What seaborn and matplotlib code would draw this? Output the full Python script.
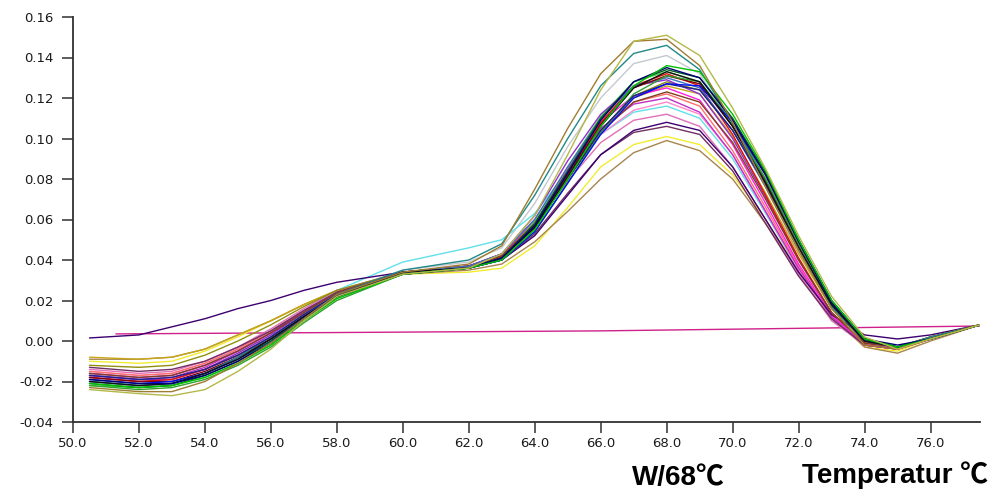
import matplotlib
matplotlib.use("Agg")
import matplotlib.pyplot as plt
import numpy as np
import pandas as pd
import seaborn as sns

# ---------------- data ----------------
temps = [50.5, 52, 53, 54, 55, 56, 57, 58, 60, 62, 63, 64, 65, 66, 67, 68,
         69, 70, 71, 72, 73, 74, 75, 76, 77.5]

flat_temps = [51.3, 66.0, 77.5]
flat_vals = [0.0035, 0.0050, 0.0074]

c_yellowgreen = [-0.024, -0.026, -0.027, -0.024, -0.015, -0.004, 0.010, 0.022, 0.033, 0.036, 0.043, 0.062, 0.092, 0.124, 0.148, 0.151, 0.141, 0.115, 0.085, 0.052, 0.022, 0.002, -0.004, 0.001, 0.008]
c_brownolive = [-0.023, -0.025, -0.025, -0.020, -0.011, -0.001, 0.011, 0.023, 0.034, 0.038, 0.047, 0.075, 0.105, 0.132, 0.148, 0.149, 0.136, 0.108, 0.076, 0.045, 0.016, -0.002, -0.004, 0.001, 0.008]
c_teal = [-0.020, -0.022, -0.021, -0.016, -0.008, 0.002, 0.013, 0.023, 0.035, 0.040, 0.048, 0.072, 0.100, 0.126, 0.142, 0.146, 0.134, 0.108, 0.078, 0.046, 0.017, 0.000, -0.003, 0.002, 0.008]
c_lightgray = [-0.018, -0.020, -0.019, -0.014, -0.006, 0.003, 0.014, 0.024, 0.035, 0.039, 0.046, 0.068, 0.096, 0.120, 0.137, 0.141, 0.132, 0.106, 0.076, 0.044, 0.016, 0.000, -0.003, 0.002, 0.008]
c_green = [-0.021, -0.023, -0.022, -0.018, -0.011, -0.002, 0.010, 0.021, 0.033, 0.036, 0.040, 0.055, 0.080, 0.106, 0.126, 0.136, 0.133, 0.112, 0.084, 0.050, 0.020, 0.001, -0.003, 0.001, 0.008]
c_navy = [-0.019, -0.021, -0.021, -0.017, -0.010, -0.001, 0.011, 0.022, 0.033, 0.036, 0.041, 0.057, 0.083, 0.109, 0.128, 0.135, 0.130, 0.109, 0.082, 0.049, 0.019, 0.001, -0.002, 0.001, 0.008]
c_black = [-0.020, -0.022, -0.021, -0.016, -0.009, 0.001, 0.012, 0.022, 0.034, 0.036, 0.041, 0.056, 0.081, 0.106, 0.125, 0.133, 0.128, 0.106, 0.078, 0.046, 0.018, 0.000, -0.003, 0.001, 0.008]
c_red = [-0.018, -0.020, -0.019, -0.014, -0.007, 0.002, 0.013, 0.023, 0.034, 0.037, 0.042, 0.058, 0.083, 0.108, 0.126, 0.132, 0.126, 0.102, 0.072, 0.041, 0.014, -0.001, -0.003, 0.002, 0.008]
c_green2 = [-0.022, -0.024, -0.023, -0.019, -0.012, -0.003, 0.009, 0.020, 0.033, 0.036, 0.040, 0.054, 0.078, 0.103, 0.122, 0.131, 0.128, 0.108, 0.080, 0.048, 0.019, 0.001, -0.003, 0.001, 0.008]
c_blue = [-0.019, -0.021, -0.020, -0.016, -0.009, 0.000, 0.012, 0.022, 0.033, 0.036, 0.040, 0.054, 0.078, 0.102, 0.120, 0.127, 0.126, 0.108, 0.082, 0.050, 0.020, 0.001, -0.003, 0.001, 0.008]
c_darkblue = [-0.017, -0.019, -0.018, -0.014, -0.007, 0.002, 0.013, 0.023, 0.034, 0.036, 0.041, 0.056, 0.080, 0.104, 0.121, 0.127, 0.124, 0.104, 0.077, 0.046, 0.018, 0.000, -0.003, 0.001, 0.008]
c_brown = [-0.016, -0.018, -0.017, -0.012, -0.005, 0.004, 0.014, 0.024, 0.034, 0.037, 0.042, 0.057, 0.080, 0.103, 0.118, 0.123, 0.118, 0.098, 0.070, 0.040, 0.014, -0.001, -0.003, 0.002, 0.008]
c_violet = [-0.017, -0.019, -0.018, -0.013, -0.005, 0.004, 0.015, 0.024, 0.034, 0.037, 0.043, 0.060, 0.084, 0.105, 0.117, 0.120, 0.113, 0.092, 0.064, 0.036, 0.012, -0.002, -0.004, 0.001, 0.008]
c_pink = [-0.015, -0.017, -0.016, -0.011, -0.004, 0.005, 0.015, 0.024, 0.034, 0.037, 0.043, 0.059, 0.082, 0.102, 0.114, 0.118, 0.112, 0.092, 0.064, 0.035, 0.011, -0.002, -0.004, 0.001, 0.008]
c_cyan = [-0.016, -0.018, -0.017, -0.012, -0.004, 0.005, 0.015, 0.025, 0.039, 0.046, 0.050, 0.063, 0.084, 0.102, 0.113, 0.116, 0.110, 0.090, 0.063, 0.035, 0.012, -0.001, -0.003, 0.001, 0.008]
c_pink2 = [-0.014, -0.016, -0.015, -0.010, -0.003, 0.006, 0.016, 0.025, 0.034, 0.037, 0.042, 0.057, 0.079, 0.098, 0.109, 0.112, 0.106, 0.086, 0.060, 0.033, 0.010, -0.002, -0.004, 0.001, 0.008]
c_darkpurple = [0.0015, 0.003, 0.007, 0.011, 0.016, 0.020, 0.025, 0.029, 0.034, 0.036, 0.040, 0.052, 0.072, 0.092, 0.104, 0.108, 0.104, 0.086, 0.060, 0.034, 0.013, 0.003, 0.001, 0.003, 0.008]
c_plum = [-0.013, -0.015, -0.014, -0.010, -0.003, 0.005, 0.015, 0.024, 0.034, 0.036, 0.040, 0.053, 0.073, 0.092, 0.103, 0.106, 0.102, 0.084, 0.058, 0.032, 0.011, -0.002, -0.004, 0.001, 0.008]
c_yellow = [-0.010, -0.011, -0.010, -0.005, 0.002, 0.010, 0.018, 0.025, 0.033, 0.034, 0.036, 0.047, 0.066, 0.086, 0.097, 0.101, 0.097, 0.082, 0.060, 0.035, 0.012, -0.003, -0.005, 0.001, 0.008]
c_tan = [-0.009, -0.009, -0.008, -0.004, 0.003, 0.010, 0.018, 0.025, 0.033, 0.035, 0.038, 0.049, 0.064, 0.080, 0.093, 0.099, 0.094, 0.080, 0.058, 0.034, 0.012, -0.003, -0.006, 0.000, 0.008]
c_darkred = [-0.018, -0.020, -0.020, -0.015, -0.008, 0.001, 0.012, 0.022, 0.034, 0.036, 0.041, 0.057, 0.082, 0.107, 0.125, 0.131, 0.127, 0.106, 0.079, 0.047, 0.018, 0.000, -0.003, 0.001, 0.008]
c_purple = [-0.017, -0.019, -0.019, -0.014, -0.006, 0.003, 0.014, 0.024, 0.034, 0.037, 0.043, 0.062, 0.089, 0.112, 0.126, 0.129, 0.122, 0.100, 0.071, 0.040, 0.014, -0.001, -0.003, 0.001, 0.008]
c_darkgreen = [-0.021, -0.023, -0.022, -0.017, -0.010, 0.000, 0.011, 0.022, 0.033, 0.036, 0.041, 0.058, 0.084, 0.110, 0.128, 0.134, 0.130, 0.110, 0.083, 0.050, 0.020, 0.001, -0.003, 0.001, 0.008]
c_magenta = [-0.016, -0.018, -0.017, -0.012, -0.005, 0.004, 0.014, 0.024, 0.034, 0.037, 0.042, 0.059, 0.085, 0.108, 0.121, 0.125, 0.119, 0.097, 0.068, 0.038, 0.013, -0.002, -0.004, 0.001, 0.008]
c_salmon = [-0.015, -0.017, -0.016, -0.011, -0.004, 0.005, 0.015, 0.024, 0.034, 0.037, 0.042, 0.058, 0.082, 0.104, 0.118, 0.122, 0.116, 0.094, 0.066, 0.037, 0.012, -0.002, -0.004, 0.001, 0.008]
c_olive = [-0.012, -0.013, -0.012, -0.007, 0.000, 0.008, 0.017, 0.025, 0.034, 0.036, 0.041, 0.056, 0.080, 0.104, 0.121, 0.128, 0.124, 0.104, 0.077, 0.045, 0.017, 0.000, -0.003, 0.001, 0.008]
c_steel = [-0.020, -0.022, -0.021, -0.016, -0.008, 0.001, 0.012, 0.023, 0.034, 0.037, 0.043, 0.060, 0.086, 0.110, 0.126, 0.130, 0.125, 0.104, 0.076, 0.045, 0.017, 0.000, -0.003, 0.001, 0.008]
c_lightgreen = [-0.022, -0.023, -0.022, -0.018, -0.011, -0.002, 0.010, 0.021, 0.033, 0.036, 0.041, 0.059, 0.086, 0.111, 0.128, 0.133, 0.128, 0.107, 0.080, 0.048, 0.019, 0.001, -0.003, 0.001, 0.008]
c_gold = [-0.008, -0.009, -0.008, -0.004, 0.003, 0.010, 0.018, 0.025, 0.034, 0.036, 0.041, 0.057, 0.081, 0.104, 0.120, 0.126, 0.122, 0.101, 0.073, 0.043, 0.016, 0.000, -0.003, 0.001, 0.008]

x_ticks = [50, 52, 54, 56, 58, 60, 62, 64, 66, 68, 70, 72, 74, 76]
y_ticks = [-0.04, -0.02, 0.00, 0.02, 0.04, 0.06, 0.08, 0.10, 0.12, 0.14, 0.16]

curves = {
    "flat": (flat_temps, flat_vals),
    "lightgray": (temps, c_lightgray),
    "yellow": (temps, c_yellow),
    "tan": (temps, c_tan),
    "gold": (temps, c_gold),
    "cyan": (temps, c_cyan),
    "pink": (temps, c_pink),
    "pink2": (temps, c_pink2),
    "salmon": (temps, c_salmon),
    "violet": (temps, c_violet),
    "magenta": (temps, c_magenta),
    "plum": (temps, c_plum),
    "darkpurple": (temps, c_darkpurple),
    "olive": (temps, c_olive),
    "lightgreen": (temps, c_lightgreen),
    "purple": (temps, c_purple),
    "red": (temps, c_red),
    "brown": (temps, c_brown),
    "steel": (temps, c_steel),
    "darkred": (temps, c_darkred),
    "green2": (temps, c_green2),
    "teal": (temps, c_teal),
    "darkblue": (temps, c_darkblue),
    "blue": (temps, c_blue),
    "black": (temps, c_black),
    "darkgreen": (temps, c_darkgreen),
    "navy": (temps, c_navy),
    "green": (temps, c_green),
    "brownolive": (temps, c_brownolive),
    "yellowgreen": (temps, c_yellowgreen),
}

palette = {
    "flat": "#d0208a", "lightgray": "#c4c8d0", "yellow": "#f2ec30", "tan": "#a88450",
    "gold": "#c8a818", "cyan": "#60e0e8", "pink": "#ff88c8", "pink2": "#e070b8",
    "salmon": "#ff7070", "violet": "#c030c8", "magenta": "#ff20e0", "plum": "#703060",
    "darkpurple": "#3c0070", "olive": "#909010", "lightgreen": "#50d850",
    "purple": "#9030d0", "red": "#e01010", "brown": "#804020", "steel": "#4070c0",
    "darkred": "#800010", "green2": "#30a030", "teal": "#208888", "darkblue": "#202090",
    "blue": "#0010f0", "black": "#101010", "darkgreen": "#006020", "navy": "#000070",
    "green": "#00c000", "brownolive": "#a07c30", "yellowgreen": "#b4b848",
}

rows = []
for name, (tt, vv) in curves.items():
    for t, v in zip(tt, vv):
        rows.append({"temp": t, "value": v, "curve": name})
df = pd.DataFrame(rows)

# ---------------- plot ----------------
sns.set_style("ticks")
plt.rcParams["font.family"] = ["DejaVu Sans"]
plt.rcParams["axes.unicode_minus"] = False

W, H = 1008, 491
fig = plt.figure(figsize=(W / 100, H / 100), dpi=100)
x0, x1 = 73, 980
y0, y1 = 422, 17
ax = fig.add_axes([x0 / W, 1 - y0 / H, (x1 - x0) / W, (y0 - y1) / H])

sns.lineplot(data=df, x="temp", y="value", hue="curve", hue_order=list(curves.keys()),
             palette=palette, estimator=None, sort=False, linewidth=1.0,
             legend=False, ax=ax)

ax.set_xlim(50, 77.5)
ax.set_ylim(-0.04, 0.16)
ax.set_xticks(x_ticks)
ax.set_xticklabels([f"{v:.1f}" for v in x_ticks])
ax.set_yticks(y_ticks)
ax.set_yticklabels([f"{v:.2f}" for v in y_ticks])
ax.set_xlabel("")
ax.set_ylabel("")
for s in ["top", "right"]:
    ax.spines[s].set_visible(False)
for s in ["left", "bottom"]:
    ax.spines[s].set_color("#303030")
    ax.spines[s].set_linewidth(1.3)
ax.tick_params(axis="both", direction="out", length=8, width=1.1, color="#303030",
               labelsize=9.5, labelcolor="#1a1a1a")
ax.tick_params(axis="y", pad=6)
ax.tick_params(axis="x", pad=3)

fig.text(678 / W, 1 - 485 / H, "W/68℃", ha="center", va="baseline", color="black",
         fontsize=20, fontweight="bold", family=["Liberation Sans", "Noto Sans CJK SC"], zorder=10)
fig.text(802 / W, 1 - 483 / H, "Temperatur ℃", ha="left", va="baseline", color="black",
         fontsize=20, fontweight="bold", family=["Liberation Sans", "Noto Sans CJK SC"], zorder=10)

fig.savefig("out.png", dpi=100, facecolor="white")
